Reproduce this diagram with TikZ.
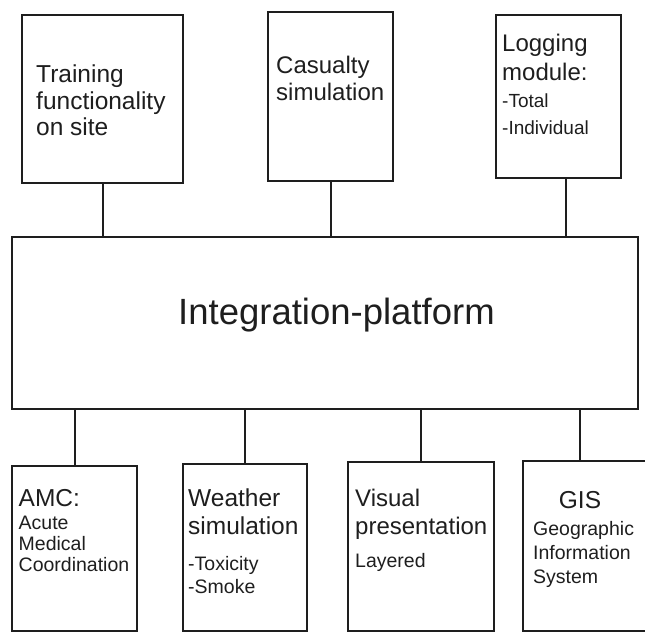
\documentclass[tikz,border=0pt]{standalone}
\usepackage{fontspec}
\setmainfont{Liberation Sans}
\definecolor{ink}{HTML}{1E1E1E}
\begin{document}
\begin{tikzpicture}[x=1pt,y=1pt,
  box/.style={draw=ink, line width=2pt, inner sep=0pt, anchor=north west},
  conn/.style={draw=ink, line width=2pt},
  ttl/.style={inner sep=0pt, anchor=north west, align=left, text=ink,
    font=\fontsize{24.5}{28}\selectfont},
  sub/.style={inner sep=0pt, anchor=north west, align=left, text=ink,
    font=\fontsize{19.5}{23}\selectfont}]
\useasboundingbox (0,0) rectangle (645,-632);
% top boxes
\node[box, minimum width=161, minimum height=168] (train) at (21,-14) {};
\node[box, minimum width=125, minimum height=169] (cas) at (267,-11) {};
\node[box, minimum width=125, minimum height=163] (log) at (495,-14) {};
% integration platform
\node[box, minimum width=626, minimum height=172] (integ) at (11,-236) {};
% bottom boxes
\node[box, minimum width=125, minimum height=165] (amc) at (11,-465) {};
\node[box, minimum width=124, minimum height=167] (wea) at (182,-463) {};
\node[box, minimum width=146, minimum height=169] (vis) at (347,-461) {};
\node[box, minimum width=132, minimum height=170] (gis) at (522,-460) {};
% texts
\node[ttl, font=\fontsize{24.5}{26.5}\selectfont] (traint) at (36,-65) {Training\\functionality\\on site};
\node[ttl, font=\fontsize{24}{27}\selectfont] (cast) at (276,-55.5) {Casualty\\simulation};
\node[ttl, font=\fontsize{24}{29}\selectfont] (logt) at (502,-33.5) {Logging\\module:};
\node[sub, font=\fontsize{19}{27}\selectfont] (logs) at (502,-94) {-Total\\-Individual};
\node[inner sep=0pt, anchor=north west, text=ink, font=\fontsize{36.5}{40}\selectfont] (integt) at (178,-298) {Integration-platform};
\node[ttl] (amct) at (18.5,-489) {AMC:};
\node[sub, font=\fontsize{19.5}{21}\selectfont] (amcs) at (18.5,-516) {Acute\\Medical\\Coordination};
\node[ttl] (weat) at (188,-489) {Weather\\simulation};
\node[sub] (weas) at (188,-556) {-Toxicity\\-Smoke};
\node[ttl, font=\fontsize{24}{28}\selectfont] (vist) at (355,-489) {Visual\\presentation};
\node[sub] (viss) at (355,-553) {Layered};
\node[ttl, anchor=north] (gist) at (580,-491.5) {GIS};
\node[sub, font=\fontsize{19.5}{24}\selectfont] (giss) at (533,-521) {Geographic\\Information\\System};
% connectors
\draw[conn] (train.south) -- (train.south |- integ.north);
\draw[conn] (cas.south) -- (cas.south |- integ.north);
\draw[conn] ([xshift=7.5]log.south) -- ([xshift=7.5]log.south |- integ.north);
\draw[conn] (amc.north) -- (amc.north |- integ.south);
\draw[conn] (wea.north) -- (wea.north |- integ.south);
\draw[conn] (vis.north) -- (vis.north |- integ.south);
\draw[conn] ([xshift=58]gis.north west) -- ([xshift=58]gis.north west |- integ.south);
\end{tikzpicture}
\end{document}
